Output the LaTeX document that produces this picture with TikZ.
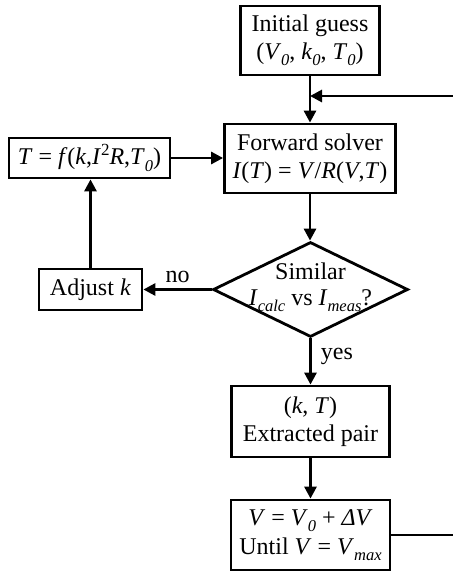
\documentclass[tikz,border=0pt]{standalone}
\usepackage{fontspec}
\setmainfont{Liberation Serif}
\usetikzlibrary{arrows.meta,shapes.geometric}
% italic subscript / upright superscript in text mode
\newcommand\lsub[1]{\raisebox{-0.26em}{\fontsize{16.5}{16.5}\selectfont\textit{#1}}}
\newcommand\hsup[1]{\raisebox{0.38em}{\fontsize{17}{17}\selectfont #1}}
\tikzset{
  box/.style={draw, line width=2.8pt, inner sep=0pt, align=center},
  decision/.style={draw, diamond, line width=2.8pt, inner sep=0pt},
  conn/.style={line width=2.8pt, -{Triangle[length=12pt,width=12pt]}},
  plainline/.style={line width=2.8pt},
  lbl/.style={inner sep=0pt}
}
\begin{document}
\begin{tikzpicture}[x=1pt, y=-1pt, font=\fontsize{24}{28}\selectfont]
\useasboundingbox (0,0) rectangle (453,571);

% boxes
\node[box, minimum width=139pt, minimum height=69pt] (init) at (310,40.5)
  {Initial guess\\(\textit{V}\lsub{0}, \textit{k}\lsub{0}, \textit{T}\lsub{0})};
\node[box, minimum width=171pt, minimum height=69pt] (fwd) at (310,158.5)
  {Forward solver\\\textit{I}(\textit{T}) = \textit{V}/\textit{R}(\textit{V},\textit{T})};
\node[box, minimum width=161pt, minimum height=40pt] (tf) at (89.5,158)
  {\textit{T} = \textit{f}(\textit{k},\textit{I}\hsup{2}\textit{R},\textit{T}\lsub{0})};
\node[box, minimum width=103pt, minimum height=41pt] (adj) at (90.5,289.5)
  {Adjust \textit{k}};
\node[decision, minimum width=195pt, minimum height=95pt] (sim) at (310.5,289.5) {};
\node[lbl, align=center, font=\fontsize{24}{26}\selectfont] at (310.5,287)
  {Similar\\\textit{I}\lsub{calc} vs \textit{I}\lsub{meas}?};
\node[box, minimum width=158pt, minimum height=71pt] (pair) at (310.5,421.5)
  {(\textit{k}, \textit{T})\\Extracted pair};
\node[box, minimum width=159pt, minimum height=70pt, font=\fontsize{24}{29}\selectfont] (upd) at (310.5,535)
  {\textit{V} = \textit{V}\lsub{0} + \textit{ΔV}\\Until \textit{V} = \textit{V}\lsub{max}};

% loop ends at the right edge
\coordinate (backin) at (453,96);
\coordinate (backout) at (453,535);
\coordinate (join) at (310,96);

% connectors
\draw[conn] (init.south) -- (init.south |- fwd.north);
\draw[conn] (backin) -- (join);
\draw[conn] (tf.east) -- (tf.east -| fwd.west);
\draw[conn] (fwd.south) -- (fwd.south |- sim.north);
\draw[conn] (sim.west) -- node[lbl, above=5pt] {no} (adj.east);
\draw[conn] (adj.north) -- (adj.north |- tf.south);
\draw[conn] (sim.south) -- node[lbl, right=9pt, pos=0.4] {yes} (sim.south |- pair.north);
\draw[conn] (pair.south) -- (pair.south |- upd.north);
\draw[plainline] (upd.east) -- (backout);
\end{tikzpicture}
\end{document}
